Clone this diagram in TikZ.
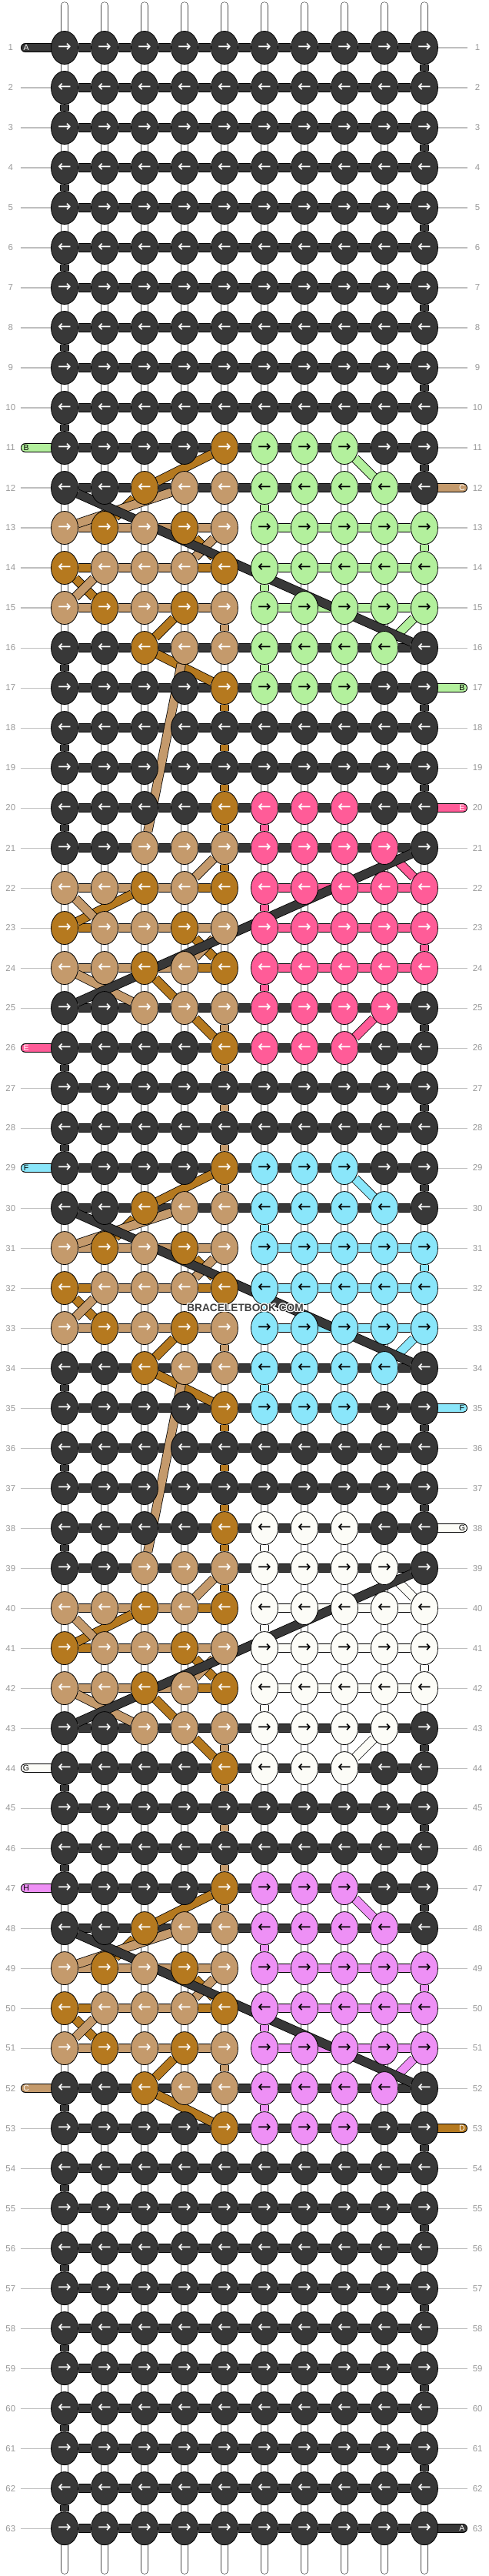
\documentclass[tikz,border=0pt]{standalone}
\usepackage{fontspec}
\setmainfont{Liberation Sans}
\newfontfamily\arrowfont{DejaVu Sans}
\usepackage{xcolor}
\usepackage{tikz}
\usetikzlibrary{shapes.geometric, backgrounds}

% fill (f) and arrow (a) colour of every thread
\definecolor{fD}{HTML}{383838}\colorlet{aD}{white}
\definecolor{fT}{HTML}{C49A6C}\colorlet{aT}{white}
\definecolor{fB}{HTML}{B5791F}\colorlet{aB}{white}
\definecolor{fG}{HTML}{B3F09D}\colorlet{aG}{black}
\definecolor{fP}{HTML}{FF5C98}\colorlet{aP}{white}
\definecolor{fC}{HTML}{8AE6FA}\colorlet{aC}{black}
\definecolor{fW}{HTML}{FCFCF7}\colorlet{aW}{black}
\definecolor{fV}{HTML}{EE90F5}\colorlet{aV}{black}

% rows that are not all dark
\newcommand\setknots[2]{\expandafter\def\csname kn\the\numexpr#1\relax\endcsname{#2}}
\newcommand\setbars[2]{\expandafter\def\csname br\the\numexpr#1\relax\endcsname{#2}}
\newcommand\noturn[1]{\expandafter\def\csname nt\the\numexpr#1\relax\endcsname{}}
\newcommand\knotlink[5]{\pgfmathtruncatemacro\rowa{#3}\pgfmathtruncatemacro\rowb{#5}%
  \draw[strand=f#1] (k#2-\rowa) -- (k#4-\rowb);}

\def\darkknots{D,D,D,D,D,D,D,D,D,D}
\def\darkbars{D,D,D,D,D,D,D,D,D}

\newcommand\motifA[2]{%
  \setknots{#1}{D,D,D,D,B,#2,#2,#2,D,D}%
  \setknots{#1+1}{D,D,B,T,T,#2,#2,#2,#2,D}%
  \setknots{#1+2}{T,B,T,B,T,#2,#2,#2,#2,#2}%
  \setknots{#1+3}{B,T,T,T,B,#2,#2,#2,#2,#2}%
  \setknots{#1+4}{T,B,T,B,T,#2,#2,#2,#2,#2}%
  \setknots{#1+5}{D,D,B,T,T,#2,#2,#2,#2,D}%
  \setknots{#1+6}{D,D,D,D,B,#2,#2,#2,D,D}%
  \setbars{#1+2}{T,T,T,T,N,#2,#2,#2,#2}%
  \setbars{#1+3}{B,T,T,B,N,#2,#2,#2,#2}%
  \setbars{#1+4}{T,T,T,T,N,#2,#2,#2,#2}%
  \noturn{#1+1}\noturn{#1+2}\noturn{#1+3}\noturn{#1+4}}
\newcommand\motifB[2]{%
  \setknots{#1}{D,D,D,D,B,#2,#2,#2,D,D}%
  \setknots{#1+1}{D,D,T,T,T,#2,#2,#2,#2,D}%
  \setknots{#1+2}{T,T,B,T,B,#2,#2,#2,#2,#2}%
  \setknots{#1+3}{B,T,T,B,T,#2,#2,#2,#2,#2}%
  \setknots{#1+4}{T,T,B,T,B,#2,#2,#2,#2,#2}%
  \setknots{#1+5}{D,D,T,T,T,#2,#2,#2,#2,D}%
  \setknots{#1+6}{D,D,D,D,B,#2,#2,#2,D,D}%
  \setbars{#1+2}{T,T,T,B,N,#2,#2,#2,#2}%
  \setbars{#1+3}{B,T,T,T,N,#2,#2,#2,#2}%
  \setbars{#1+4}{T,T,T,B,N,#2,#2,#2,#2}%
  \noturn{#1+1}\noturn{#1+2}\noturn{#1+3}\noturn{#1+4}}

\motifA{11}{G}
\motifB{20}{P}
\motifA{29}{C}
\motifB{38}{W}
\motifA{47}{V}

\begin{document}
\begin{tikzpicture}[
    x=1.04cm, y=-1.04cm,
    knot/.style={ellipse, draw=black, line width=0.45pt, minimum width=0.70cm, minimum height=0.86cm,
                 inner sep=0pt, font=\arrowfont\fontsize{12}{12}\selectfont},
    strand/.style={draw=black, line width=0.45pt, double=#1, double distance=6pt},
    warp/.style={draw=black!70, line width=0.4pt, double=white, double distance=5pt, line cap=round},
    rownum/.style={font=\fontsize{6.5}{7}\selectfont, text=gray!80, minimum width=0.5cm, inner sep=0pt},
    rowline/.style={draw=black!25, line width=0.6pt},
    endlabel/.style={font=\fontsize{6}{6}\selectfont, inner sep=0pt},
    wmark/.style={font=\bfseries\fontsize{7.8}{8}\selectfont, text=black!75, inner sep=0pt}
]
\useasboundingbox (-0.615,-0.192) rectangle (11.615,64.19);

% Knots
\foreach \r in {1,...,63}{
  \ifcsname kn\r\endcsname
    \expandafter\let\expandafter\knots\csname kn\r\endcsname
  \else
    \let\knots\darkknots
  \fi
  \ifodd\r\relax\def\arr{→}\else\def\arr{←}\fi
  \foreach \kc [count=\col] in \knots
    \node[knot, fill=f\kc, text=a\kc] (k\col-\r) at (\col,\r) {\arr};
}

% Row numbers
\foreach \r in {1,...,63}{
  \node[rownum] (ll\r) at (-0.35,\r) {\r};
  \node[rownum] (rl\r) at (11.33,\r) {\r};
}

% Watermark
\foreach \a in {0,45,...,315}
  \node[wmark, text=white, shift={(\a:0.7pt)}] (wh\a) at (5.52,32.49) {BRACELETBOOK.COM};
\node[wmark] (wm) at (5.52,32.49) {BRACELETBOOK.COM};

\begin{pgfonlayer}{background}
% Warp strings
\foreach \col in {1,...,10}{
  \coordinate (t\col) at (\col,-0.05);
  \coordinate (b\col) at (\col,64.05);
  \draw[warp] (t\col) -- (b\col);
}

% Thread ends
\foreach \r/\x/\lbl in {1/D/A, 11/G/B, 26/P/E, 29/C/F, 44/W/G, 47/V/H, 52/T/C}{
  \expandafter\gdef\csname tl\r\endcsname{}
  \coordinate (tl\r) at (0.02,\r);
  \draw[strand=f\x, line cap=round] (tl\r) -- (k1-\r);
  \node[endlabel, text=a\x] (el\r) at (0.04,\r) {\lbl};
}
\foreach \r/\x/\lbl in {12/T/C, 17/G/B, 20/P/E, 35/C/F, 38/W/G, 53/B/D, 63/D/A}{
  \expandafter\gdef\csname tr\r\endcsname{}
  \coordinate (tr\r) at (10.96,\r);
  \draw[strand=f\x, line cap=round] (k10-\r) -- (tr\r);
  \node[endlabel, text=a\x] (er\r) at (10.94,\r) {\lbl};
}

% Row lines
\foreach \r in {1,...,63}{
  \ifcsname tl\r\endcsname\else \draw[rowline] (ll\r) -- (k1-\r); \fi
  \ifcsname tr\r\endcsname\else \draw[rowline] (k10-\r) -- (rl\r); \fi
}

% Bars along the rows
\foreach \r in {1,...,63}{
  \ifcsname br\r\endcsname
    \expandafter\let\expandafter\bars\csname br\r\endcsname
  \else
    \let\bars\darkbars
  \fi
  \foreach \bc [count=\col] in \bars {
    \if N\bc\else
      \pgfmathtruncatemacro\nxt{\col+1}
      \draw[strand=f\bc] (k\col-\r) -- (k\nxt-\r);
    \fi
  }
}

% Turns at the row ends
\foreach \r in {1,...,62}{
  \pgfmathtruncatemacro\nxt{\r+1}
  \ifcsname nt\r\endcsname\else
    \ifodd\r\relax
      \draw[strand=fD] (k10-\r) -- (k10-\nxt);
    \else
      \draw[strand=fD] (k1-\r) -- (k1-\nxt);
    \fi
  \fi
}

% Motifs
\foreach \s/\x in {11/G, 29/C, 47/V}{
  \knotlink{B}{5}{\s}{3}{\s+1}
  \knotlink{B}{3}{\s+1}{2}{\s+2}
  \knotlink{T}{4}{\s+1}{1}{\s+2}
  \knotlink{B}{4}{\s+2}{5}{\s+3}
  \knotlink{T}{5}{\s+2}{4}{\s+3}
  \knotlink{B}{1}{\s+3}{2}{\s+4}
  \knotlink{T}{2}{\s+3}{1}{\s+4}
  \knotlink{B}{4}{\s+4}{3}{\s+5}
  \knotlink{T}{5}{\s+4}{5}{\s+5}
  \knotlink{B}{3}{\s+5}{5}{\s+6}
  \knotlink{\x}{8}{\s}{9}{\s+1}
  \knotlink{\x}{10}{\s+4}{9}{\s+5}
  \knotlink{\x}{10}{\s+2}{10}{\s+3}
  \foreach \d in {1,3,5} {\knotlink{\x}{6}{\s+\d}{6}{\s+\d+1}}
  \knotlink{D}{1}{\s+1}{10}{\s+5}
}
\foreach \s/\x in {20/P, 38/W}{
  \knotlink{T}{5}{\s+1}{4}{\s+2}
  \knotlink{B}{5}{\s+1}{5}{\s+2}
  \knotlink{B}{3}{\s+2}{1}{\s+3}
  \knotlink{T}{1}{\s+2}{2}{\s+3}
  \knotlink{B}{4}{\s+3}{5}{\s+4}
  \knotlink{T}{5}{\s+3}{4}{\s+4}
  \knotlink{T}{1}{\s+4}{3}{\s+5}
  \knotlink{B}{3}{\s+4}{4}{\s+5}
  \knotlink{B}{4}{\s+5}{5}{\s+6}
  \knotlink{T}{5}{\s+5}{5}{\s+6}
  \knotlink{\x}{9}{\s+1}{10}{\s+2}
  \knotlink{\x}{9}{\s+5}{8}{\s+6}
  \knotlink{\x}{10}{\s+3}{10}{\s+4}
  \foreach \d in {0,2,4} {\knotlink{\x}{6}{\s+\d}{6}{\s+\d+1}}
  \knotlink{D}{10}{\s+1}{1}{\s+5}
}

% Threads carried between motifs
\foreach \s in {11,29} {\knotlink{T}{4}{\s+5}{3}{\s+10}}
\foreach \r in {17,18,19,20,35,36,37,38} {\knotlink{B}{5}{\r}{5}{\r+1}}
\foreach \r in {26,27,28,29,44,45,46,47} {\knotlink{T}{5}{\r}{5}{\r+1}}
\end{pgfonlayer}
\end{tikzpicture}
\end{document}
